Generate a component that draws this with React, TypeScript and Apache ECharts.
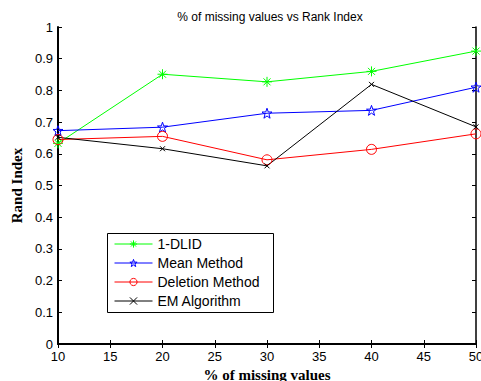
import React, { useEffect, useRef } from "react";
import * as echarts from "echarts";

const xValues = [10, 20, 30, 40, 50];
const dlid = [0.633, 0.851, 0.827, 0.86, 0.924];
const meanMethod = [0.673, 0.684, 0.728, 0.737, 0.81];
const deletionMethod = [0.645, 0.655, 0.581, 0.614, 0.663];
const emAlgorithm = [0.652, 0.616, 0.562, 0.819, 0.685];

const seriesNames = ["1-DLID", "Mean Method", "Deletion Method", "EM Algorithm"];
const seriesColors = ["#00ff00", "#0000ff", "#ff0000", "#000000"];

const ASTERISK = "path://M0,-10L0,10M-10,0L10,0M-7,-7L7,7M-7,7L7,-7";
const STAR =
  "path://M0,-10L2.35,-3.24L9.51,-3.09L3.8,1.24L5.88,8.09L0,4L-5.88,8.09L-3.8,1.24L-9.51,-3.09L-2.35,-3.24Z";
const CROSS = "path://M-10,-10L10,10M-10,10L10,-10";
const symbols = [ASTERISK, STAR, "circle", CROSS];
const symbolSizes = [10, 10, 10, 5];

export default function App() {
  const ref = useRef<HTMLDivElement>(null);
  useEffect(() => {
    if (!ref.current) return;
    const chart = echarts.init(ref.current, null, { renderer: "svg" });
    const data = [dlid, meanMethod, deletionMethod, emAlgorithm];
    const series = data.map((vals, i) => ({
      name: seriesNames[i],
      type: "line",
      data: xValues.map((x, j) => [x, vals[j]]),
      symbol: symbols[i],
      symbolSize: symbolSizes[i],
      showAllSymbol: true,
      lineStyle: { color: seriesColors[i], width: 1 },
      itemStyle: { color: "none", borderColor: seriesColors[i], borderWidth: 1 },
      emphasis: { disabled: true },
      z: 3,
    }));
    const tickFont = { fontFamily: "Liberation Sans, Arial", fontSize: 13, color: "#000" };
    chart.setOption({
      animation: false,
      backgroundColor: "#fff",
      title: {
        text: "% of missing values vs Rank Index",
        left: 265,
        textAlign: "center",
        top: 6,
        textStyle: { fontFamily: "Liberation Sans, Arial", fontSize: 12, fontWeight: "normal", color: "#000" },
      },
      grid: { left: 58, right: 5, top: 27, bottom: 37, outerBoundsMode: "none", containLabel: false },
      graphic: [
        {
          type: "rect",
          left: 107,
          top: 233,
          shape: { width: 166, height: 79 },
          style: { fill: "#fff", stroke: "#000", lineWidth: 1 },
          z: 5,
        },
      ],
      legend: {
        orient: "vertical",
        left: 114,
        top: 237,
        padding: 0,
        itemWidth: 38,
        itemHeight: 9,
        itemGap: 5,
        z: 6,
        selectedMode: false,
        textStyle: { fontFamily: "Liberation Sans, Arial", fontSize: 14, color: "#000", lineHeight: 14 },
        data: seriesNames.map((n, i) => ({
          name: n,
          itemStyle: { color: "none", borderColor: seriesColors[i], borderWidth: 1 },
          lineStyle: { color: seriesColors[i], width: 1 },
        })),
      },
      xAxis: [
        {
          type: "value",
          min: 10,
          max: 50,
          interval: 5,
          position: "bottom",
          name: "% of missing values",
          nameLocation: "middle",
          nameGap: 22,
          nameTextStyle: { fontFamily: "Liberation Serif, Times New Roman", fontSize: 15, fontWeight: "bold", color: "#000" },
          axisLine: { show: true, lineStyle: { color: "#000", width: 2 } },
          axisTick: { show: true, inside: true, length: 4, lineStyle: { color: "#000" } },
          axisLabel: { ...tickFont, margin: 6 },
          splitLine: { show: false },
        },
        {
          type: "value",
          min: 10,
          max: 50,
          interval: 5,
          position: "top",
          axisLine: { show: true, lineStyle: { color: "#000", width: 1.5 } },
          axisTick: { show: true, inside: true, length: 4, lineStyle: { color: "#000" } },
          axisLabel: { show: false },
          splitLine: { show: false },
        },
      ],
      yAxis: [
        {
          type: "value",
          min: 0,
          max: 1,
          interval: 0.1,
          position: "left",
          name: "Rand Index",
          nameLocation: "middle",
          nameGap: 28,
          nameTextStyle: { fontFamily: "Liberation Serif, Times New Roman", fontSize: 15, fontWeight: "bold", color: "#000" },
          axisLine: { show: true, lineStyle: { color: "#000", width: 2 } },
          axisTick: { show: true, inside: true, length: 4, lineStyle: { color: "#000" } },
          axisLabel: { ...tickFont, margin: 5, formatter: (v: number) => (v === 0 || v === 1 ? String(v) : v.toFixed(1)) },
          splitLine: { show: false },
        },
        {
          type: "value",
          min: 0,
          max: 1,
          interval: 0.1,
          position: "right",
          axisLine: { show: true, lineStyle: { color: "#000", width: 1.5 } },
          axisTick: { show: true, inside: true, length: 4, lineStyle: { color: "#000" } },
          axisLabel: { show: false },
          splitLine: { show: false },
        },
      ],
      series,
    });
    return () => chart.dispose();
  }, []);
  return <div ref={ref} style={{ width: 481, height: 381, position: "absolute", left: 0, top: 0 }} />;
}
